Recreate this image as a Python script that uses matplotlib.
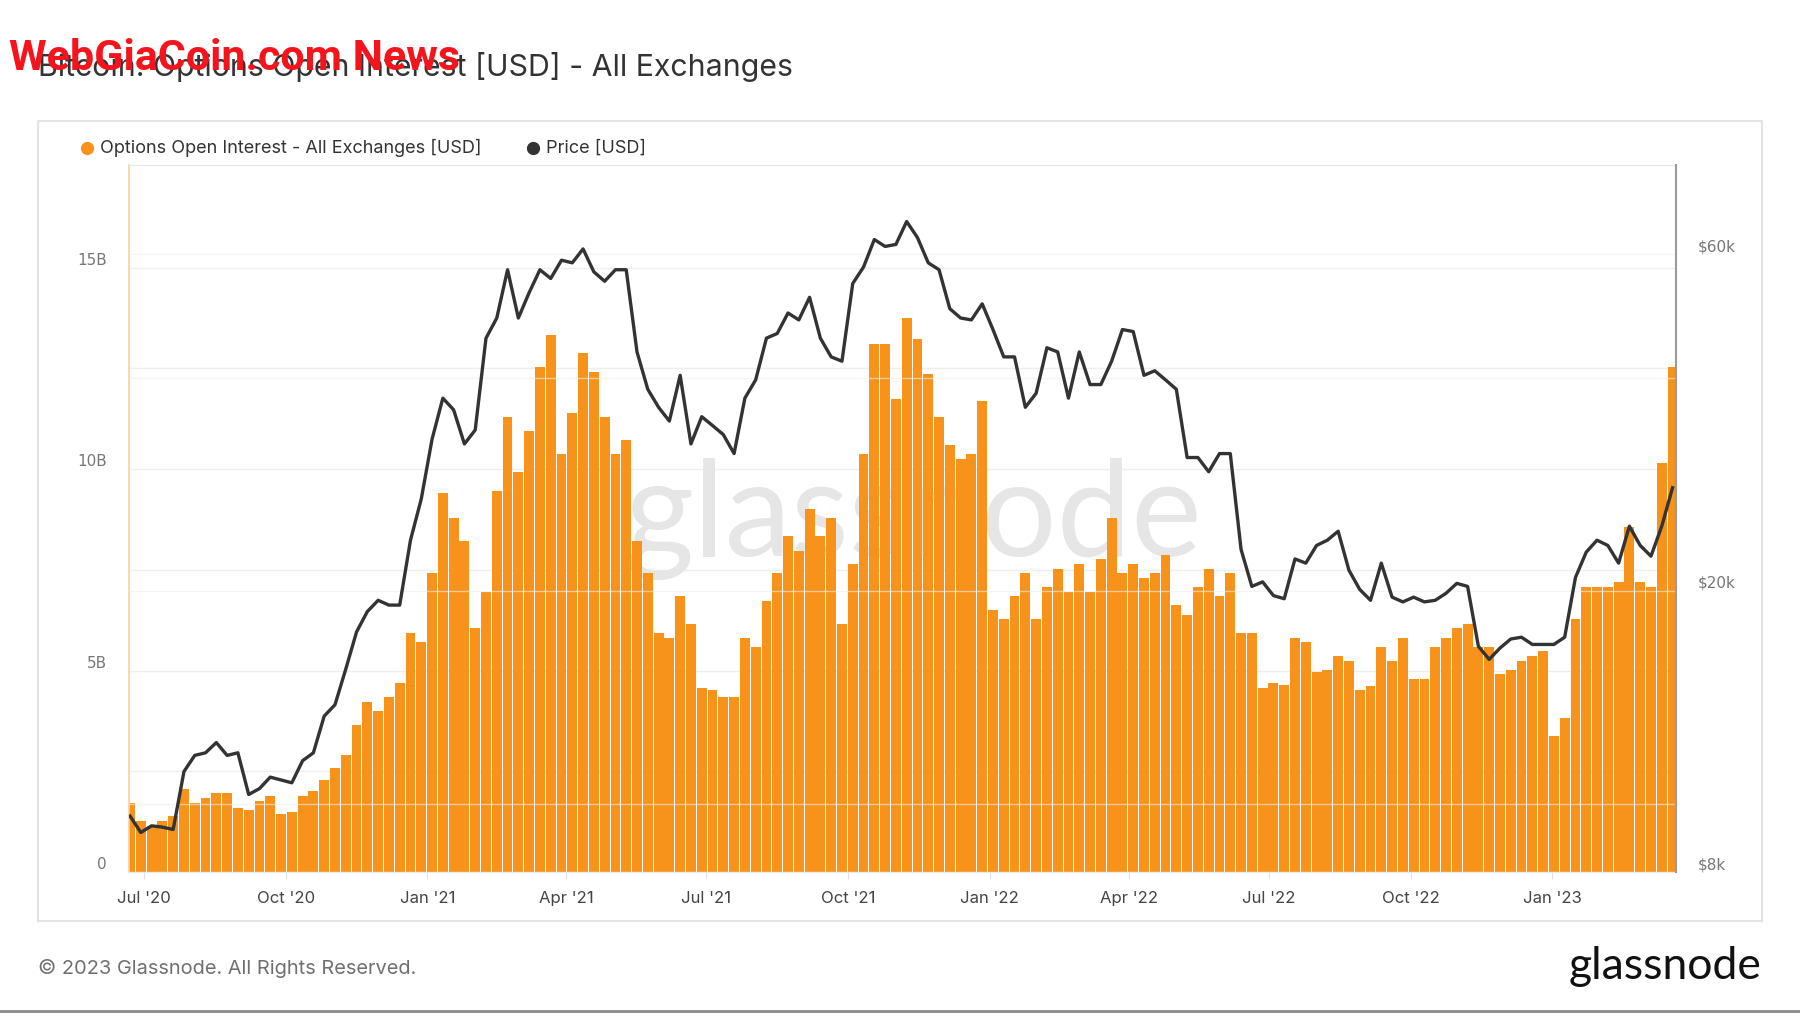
import numpy as np
import matplotlib.pyplot as plt
import matplotlib.dates as mdates
import matplotlib.transforms as mtransforms
from matplotlib.lines import Line2D
from matplotlib.patches import Rectangle
from matplotlib.ticker import FixedLocator, FuncFormatter

# weekly samples (Mon 2020-06-22 .. Mon 2023-03-20)
week_start = np.arange(np.datetime64('2020-06-22'), np.datetime64('2023-03-21'),
                       np.timedelta64(7, 'D'))

# options open interest, billions USD
oi_bn = [
    1.72, 1.26, 1.15, 1.26, 1.38, 2.06, 1.72, 1.83, 1.95, 1.95,
    1.60, 1.55, 1.77, 1.89, 1.43, 1.49, 1.89, 2.00, 2.29, 2.57,
    2.91, 3.65, 4.22, 4.00, 4.34, 4.68, 5.93, 5.70, 7.41, 9.40,
    8.78, 8.21, 6.05, 6.96, 9.46, 11.29, 9.92, 10.95, 12.54, 13.34,
    10.38, 11.40, 12.88, 12.42, 11.29, 10.38, 10.72, 8.21, 7.41, 5.93,
    5.82, 6.84, 6.16, 4.57, 4.51, 4.34, 4.34, 5.82, 5.59, 6.73,
    7.41, 8.33, 7.98, 9.01, 8.33, 8.78, 6.16, 7.64, 10.38, 13.11,
    13.11, 11.74, 13.74, 13.22, 12.37, 11.29, 10.60, 10.26, 10.38, 11.69,
    6.50, 6.27, 6.84, 7.41, 6.27, 7.07, 7.53, 6.96, 7.64, 6.96,
    7.76, 8.78, 7.41, 7.64, 7.30, 7.41, 7.87, 6.62, 6.39, 7.07,
    7.53, 6.84, 7.41, 5.93, 5.93, 4.57, 4.68, 4.65, 5.82, 5.70,
    4.96, 5.02, 5.36, 5.25, 4.51, 4.62, 5.59, 5.25, 5.82, 4.79,
    4.79, 5.59, 5.82, 6.05, 6.16, 5.59, 5.59, 4.91, 5.02, 5.25,
    5.36, 5.48, 3.37, 3.82, 6.27, 7.07, 7.07, 7.07, 7.19, 8.56,
    7.19, 7.07, 10.15, 12.54,
]

# BTC price, thousands USD
price_k = [
    9.6, 9.1, 9.3, 9.26, 9.19, 11.1, 11.7, 11.8, 12.2, 11.7,
    11.8, 10.3, 10.5, 10.9, 10.8, 10.7, 11.5, 11.8, 13.3, 13.8,
    15.5, 17.5, 18.7, 19.4, 19.1, 19.1, 23.6, 27.0, 32.8, 37.5,
    36.1, 32.3, 33.8, 45.6, 48.7, 57.0, 48.7, 52.9, 57.0, 55.4,
    58.8, 58.3, 61.0, 56.6, 54.9, 57.0, 57.0, 43.6, 38.6, 36.4,
    34.8, 40.4, 32.3, 35.3, 34.3, 33.3, 31.3, 37.5, 39.8, 45.6,
    46.3, 49.5, 48.4, 52.1, 45.6, 42.9, 42.3, 54.5, 57.5, 62.9,
    61.5, 61.9, 66.7, 63.3, 58.3, 57.0, 50.2, 48.7, 48.4, 51.0,
    46.9, 42.9, 42.9, 36.4, 38.1, 44.2, 43.6, 37.5, 43.6, 39.2,
    39.2, 42.3, 46.9, 46.6, 40.4, 41.0, 39.8, 38.6, 30.9, 30.9,
    29.5, 31.3, 31.3, 22.9, 20.3, 20.6, 19.7, 19.5, 22.2, 21.9,
    23.2, 23.6, 24.3, 21.4, 20.1, 19.4, 21.9, 19.6, 19.3, 19.6,
    19.3, 19.4, 19.85, 20.5, 20.3, 16.7, 16.0, 16.6, 17.1, 17.2,
    16.8, 16.8, 16.8, 17.2, 20.9, 22.7, 23.6, 23.2, 21.9, 24.7,
    23.2, 22.4, 24.7, 28.0,
]

left_ticks = [0, 5e9, 10e9, 15e9]
right_ticks = [8000, 20000, 60000]
right_labels = ['$8k', '$20k', '$60k']

ORANGE = '#f7931a'
DARK = '#333333'

x = mdates.date2num(week_start.astype('datetime64[D]').astype(object))
oi = np.array(oi_bn) * 1e9
price = np.array(price_k) * 1000

fig = plt.figure(figsize=(18, 10.13), dpi=100)
W, H = 1800, 1013

# outer card
fig.patches.append(Rectangle((38 / W, 1 - 921 / H), 1724 / W, 800 / H, transform=fig.transFigure,
                             fill=False, edgecolor='#e3e3e3', linewidth=1.5))
fig.add_artist(Line2D([0, 1], [0.0018, 0.0018], transform=fig.transFigure, color='#8a8a8a', lw=2))

ax = fig.add_axes([129 / W, 1 - 872 / H, (1676 - 129) / W, (872 - 165) / H])
ax2 = ax.twinx()

ax.bar(x, oi, width=6.4, color=ORANGE, linewidth=0, zorder=2)
ax.text(0.507, 0.499, 'glassnode', transform=ax.transAxes, ha='center', va='center',
        fontsize=96, family='Lato', color='#e6e6e6', zorder=1)
ax2.plot(x, price, color=DARK, lw=2.4, solid_joinstyle='round', zorder=3)

ax.set_xlim(mdates.date2num(np.datetime64('2020-06-21T08:00').astype(object)),
            mdates.date2num(np.datetime64('2023-03-22T06:00').astype(object)))
ax.set_ylim(0, 17.55e9)
ax2.set_yscale('log')
ax2.set_ylim(8000, 80200)

# left axis
ax.yaxis.set_major_locator(FixedLocator(left_ticks))
ax.yaxis.set_minor_locator(FixedLocator([2.5e9, 7.5e9, 12.5e9]))
ax.yaxis.set_major_formatter(FuncFormatter(lambda v, p: '0' if v == 0 else f'{v / 1e9:.0f}B'))
ax.grid(axis='y', which='both', color='#eeeeee', lw=1)
ax.set_axisbelow(True)
ax.tick_params(axis='y', which='both', length=0, pad=16, labelsize=11, labelcolor='#777777')

# right axis
ax2.yaxis.set_major_locator(FixedLocator(right_ticks))
ax2.yaxis.set_minor_locator(FixedLocator([10000, 40000]))
ax2.yaxis.set_major_formatter(FuncFormatter(lambda v, p: right_labels[right_ticks.index(v)]
                                            if v in right_ticks else ''))
ax2.yaxis.set_minor_formatter(FuncFormatter(lambda v, p: ''))
ax2.grid(axis='y', which='both', color='#eeeeee', lw=1, alpha=0.6, zorder=0)
ax2.tick_params(axis='y', which='both', length=0, pad=16, labelsize=11, labelcolor='#777777')

# x axis
ax.xaxis.set_major_locator(mdates.MonthLocator(bymonth=[1, 4, 7, 10]))
ax.xaxis.set_major_formatter(mdates.DateFormatter("%b '%y"))
ax.tick_params(axis='x', length=5, color='#e0e0e0', pad=9, labelsize=12, labelcolor='#444444')
for lab in ax.get_xticklabels():
    lab.set_family('Inter')

for a in (ax, ax2):
    for s in a.spines.values():
        s.set_visible(False)
ax.spines['left'].set_visible(True)
ax.spines['left'].set_color('#fccf9b')
ax.spines['left'].set_linewidth(1.2)
ax.spines['top'].set_visible(True)
ax.spines['top'].set_color('#e8e8e8')
ax.spines['bottom'].set_visible(True)
ax.spines['bottom'].set_color('#e8e8e8')
ax2.spines['right'].set_visible(True)
ax2.spines['right'].set_color('#9a9a9a')
ax2.spines['right'].set_linewidth(1.5)

# y labels sit a little above their gridlines
shift = mtransforms.ScaledTranslation(0, 9 / 100, fig.dpi_scale_trans)
for lab in ax.get_yticklabels() + ax2.get_yticklabels():
    lab.set_transform(lab.get_transform() + shift)

# title, legend, footer
fig.text(38 / W, 1 - 76 / H, 'Bitcoin: Options Open Interest [USD] - All Exchanges',
         fontsize=21.8, family='Inter', color=DARK, va='baseline')
fig.text(9 / W, 1 - 70 / H, 'WebGiaCoin.com News', fontsize=31, fontweight='bold',
         family=['Roboto', 'DejaVu Sans'], color='#f5141c', va='baseline')

fig.add_artist(Line2D([87 / W], [1 - 148 / H], marker='o', markersize=8.5, color=ORANGE,
                      transform=fig.transFigure))
fig.text(100 / W, 1 - 148 / H, 'Options Open Interest - All Exchanges [USD]', fontsize=13,
         family='Inter', color=DARK, va='center')
fig.add_artist(Line2D([533 / W], [1 - 148 / H], marker='o', markersize=8.5, color=DARK,
                      transform=fig.transFigure))
fig.text(546 / W, 1 - 148 / H, 'Price [USD]', fontsize=13, family='Inter', color=DARK, va='center')

fig.text(38 / W, 1 - 968 / H, '\u00a9 2023 Glassnode. All Rights Reserved.', fontsize=14.4,
         family='Inter', color='#707070', va='center')
fig.text(1762 / W, 1 - 966 / H, 'glassnode', fontsize=32, family='Lato', color='#111111',
         ha='right', va='center')

fig.savefig('out.png', dpi=100)
